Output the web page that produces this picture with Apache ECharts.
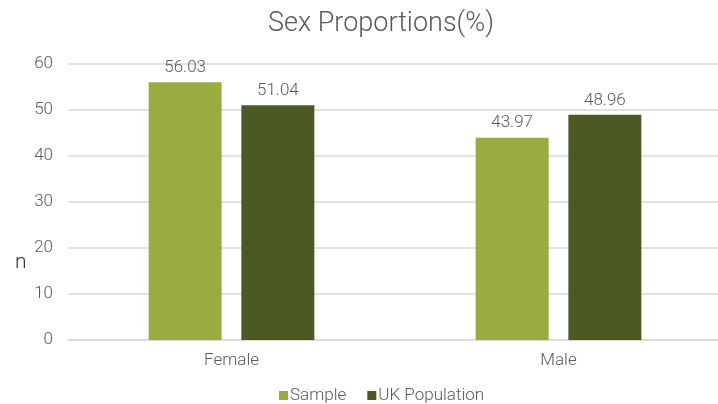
<!DOCTYPE html>
<html><head><meta charset="utf-8">
<script src="https://cdn.jsdelivr.net/npm/echarts@6/dist/echarts.min.js"></script>
<style>html,body{margin:0;padding:0;background:#fff}#c{width:718px;height:404px}</style>
</head><body><div id="c"></div>
<script>
const categories = ['Female', 'Male'];
const seriesNames = ['Sample', 'UK Population'];
const sampleValues = [56.03, 43.97];
const ukValues = [51.04, 48.96];
const yTicks = { min: 0, max: 60, interval: 10 };

const txt = '#595959';
const font = 'Roboto';
const chart = echarts.init(document.getElementById('c'));
chart.setOption({
  animation: false,
  title: { text: 'Sex Proportions(%)', left: 263, top: 6,
    textStyle: { fontFamily: font, fontWeight: 300, fontSize: 27, color: txt } },
  legend: { top: 387, left: 279, padding: 0, itemWidth: 9, itemHeight: 9, itemGap: 21,
    icon: 'rect', textStyle: { fontFamily: font, fontWeight: 300, fontSize: 17, color: txt, padding: [0,0,0,-3] } },
  grid: { left: 68, width: 654, top: 64, bottom: 64, outerBoundsMode: 'none', containLabel: false },
  xAxis: { type: 'category', data: categories,
    axisLine: { lineStyle: { color: '#d9d9d9', width: 1.5 } }, axisTick: { show: false },
    axisLabel: { fontFamily: font, fontWeight: 300, fontSize: 17, color: txt, margin: 12 } },
  yAxis: { type: 'value', min: yTicks.min, max: yTicks.max, interval: yTicks.interval,
    axisLine: { show: false }, axisTick: { show: false },
    splitLine: { lineStyle: { color: '#d9d9d9', width: 1.5 } },
    axisLabel: { fontFamily: font, fontWeight: 300, fontSize: 17, color: txt, margin: 15 } },
  graphic: [{ type: 'text', left: 15, top: 252, style: { text: 'n', font: '300 21px Roboto', fill: '#333' } }],
  series: [
    { name: seriesNames[0], type: 'bar', data: sampleValues, barWidth: 73, barGap: '27%',
      itemStyle: { color: '#9aab40' },
      label: { show: true, position: 'top', distance: 6, fontFamily: font, fontWeight: 300, fontSize: 17, color: txt } },
    { name: seriesNames[1], type: 'bar', data: ukValues, barWidth: 73,
      itemStyle: { color: '#4a5a22' },
      label: { show: true, position: 'top', distance: 6, fontFamily: font, fontWeight: 300, fontSize: 17, color: txt } }
  ]
});
</script></body></html>
